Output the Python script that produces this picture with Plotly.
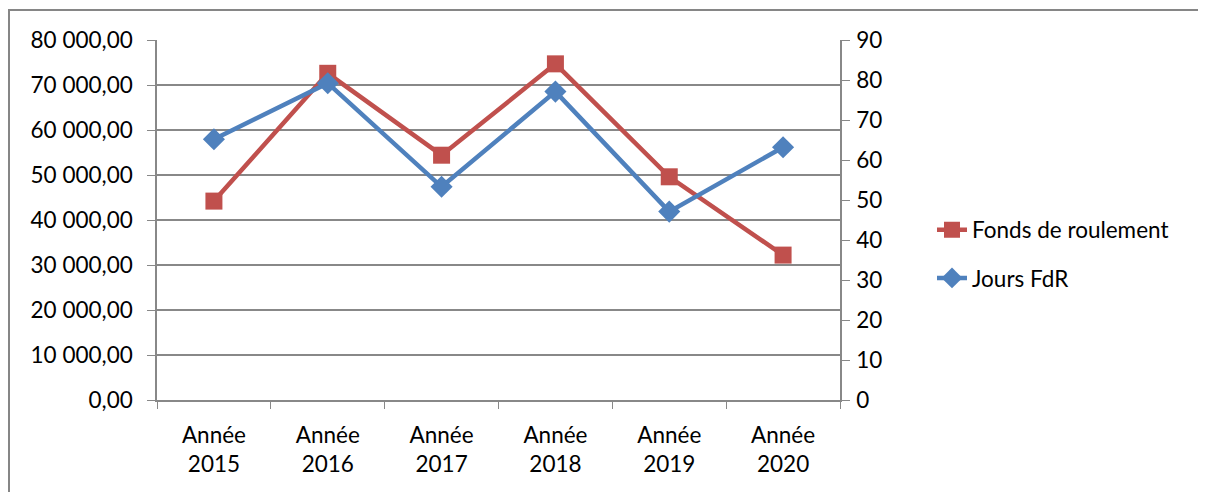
import plotly.graph_objects as go

categories = ["Année<br>2015", "Année<br>2016", "Année<br>2017", "Année<br>2018", "Année<br>2019", "Année<br>2020"]
fonds_roulement = [44200, 72600, 54400, 74700, 49600, 32200]
jours_fdr = [65.2, 79.2, 53.3, 77.1, 47.1, 63.2]
left_ticks = [0, 10000, 20000, 30000, 40000, 50000, 60000, 70000, 80000]
right_ticks = [0, 10, 20, 30, 40, 50, 60, 70, 80, 90]

RED = "#C0504D"
BLUE = "#4F81BD"
GRID = "#888888"
FONT = "Lato"
FS = 22.5

# page body has an 8px margin; size the figure so the plot lands where the reference has it
W, H = 1198, 484
L, R, T, B = 149, 366, 32, 92
PW = W - L - R
PH = H - T - B

fig = go.Figure()
fig.add_trace(go.Scatter(
    x=categories, y=fonds_roulement, name="Fonds de roulement",
    mode="lines+markers", yaxis="y", legendgroup="a",
    line=dict(color=RED, width=4.5),
    marker=dict(symbol="square", size=17, color=RED),
))
fig.add_trace(go.Scatter(
    x=categories, y=jours_fdr, name="Jours FdR",
    mode="lines+markers", yaxis="y2", legendgroup="b",
    line=dict(color=BLUE, width=4.5),
    marker=dict(symbol="diamond", size=17, color=BLUE),
))

fig.update_layout(
    width=W, height=H,
    margin=dict(l=L, r=R, t=T, b=B, autoexpand=False),
    paper_bgcolor="white", plot_bgcolor="white",
    separators=", ",
    font=dict(family=FONT, size=FS, color="black"),
    showlegend=True,
    legend=dict(x=(932 - 157) / PW, y=(400 - 254) / PH, xanchor="left", yanchor="middle",
                font=dict(size=FS), traceorder="grouped", tracegroupgap=16,
                bgcolor="rgba(0,0,0,0)"),
    xaxis=dict(
        type="category", showgrid=False, showline=True, linecolor=GRID, linewidth=1.5,
        ticks="outside", tickson="boundaries", ticklen=7, tickcolor=GRID,
        tickfont=dict(size=FS), range=[-0.5, 5.5], ticklabelstandoff=14,
    ),
    yaxis=dict(
        range=[0, 80000], tickvals=left_ticks, tickformat=",.2f",
        showgrid=True, gridcolor=GRID, gridwidth=1.5,
        showline=True, linecolor=GRID, linewidth=1.5,
        ticks="outside", ticklen=8, tickcolor=GRID,
        tickfont=dict(size=FS), zeroline=False, ticklabelstandoff=10,
    ),
    yaxis2=dict(
        range=[0, 90], tickvals=right_ticks, overlaying="y", side="right",
        showgrid=False, showline=True, linecolor=GRID, linewidth=1.5,
        ticks="outside", ticklen=8, tickcolor=GRID,
        tickfont=dict(size=FS), zeroline=False, ticklabelstandoff=2,
    ),
    shapes=[dict(type="rect", xref="paper", yref="paper",
                 x0=(1 - L) / PW, x1=2.0, y0=-0.4, y1=(PH + T - 2) / PH,
                 line=dict(color="#868686", width=2), fillcolor="rgba(0,0,0,0)", layer="below")],
)

fig.write_html("out.html")
